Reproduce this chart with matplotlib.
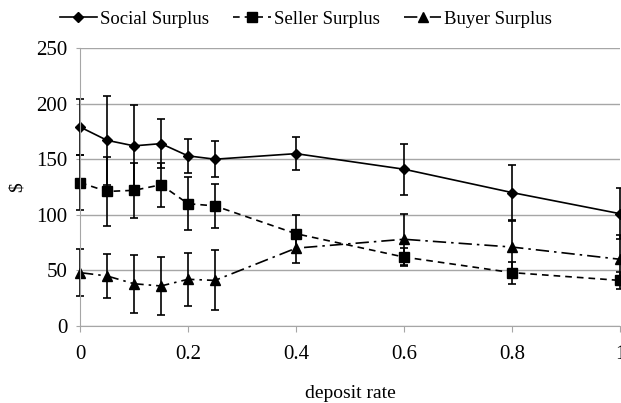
import matplotlib
matplotlib.use("Agg")
import matplotlib.pyplot as plt

rate = [0, 0.05, 0.1, 0.15, 0.2, 0.25, 0.4, 0.6, 0.8, 1.0]

social = [179, 167, 162, 164, 153, 150, 155, 141, 120, 101]
social_err = [25, 40, 37, 22, 15, 16, 15, 23, 25, 23]

seller = [129, 121, 122, 127, 110, 108, 83, 62, 48, 41]
seller_err = [25, 31, 25, 20, 24, 20, 17, 8, 10, 8]

buyer = [48, 45, 38, 36, 42, 41, 70, 78, 71, 60]
buyer_err = [21, 20, 26, 26, 24, 27, 13, 23, 23, 22]

plt.rcParams['font.family'] = ['Liberation Serif', 'DejaVu Serif']
plt.rcParams['font.size'] = 12

fig = plt.figure(figsize=(6.21, 4.03), dpi=100)
ax = fig.add_axes([80 / 621, 1 - 326 / 403, 540 / 621, 278 / 403])

styles = [
    (social, social_err, '-', 'D', 5.5, 'Social Surplus'),
    (seller, seller_err, (0, (4, 3)), 's', 7.5, 'Seller Surplus'),
    (buyer, buyer_err, (0, (8, 3, 1.5, 3)), '^', 7.5, 'Buyer Surplus'),
]
handles = []
for vals, err, ls, mk, ms, lab in styles:
    c = ax.errorbar(rate, vals, yerr=err, color='black', lw=1.2, ls=ls,
                    marker=mk, ms=ms, capsize=3, elinewidth=1.2, capthick=1.2,
                    label=lab)
    # keep the end markers whole at x=0 and x=1
    for art in c.lines[1] + c.lines[2] + (c.lines[0],):
        art.set_clip_on(False)
    handles.append(c.lines[0])

ax.set_xlim(0, 1)
ax.set_ylim(0, 250)
ax.set_yticks([0, 50, 100, 150, 200, 250])
ax.set_xticks([0, 0.2, 0.4, 0.6, 0.8, 1])
ax.set_xticklabels(['0', '0.2', '0.4', '0.6', '0.8', '1'])
ax.yaxis.grid(True, color='#a6a6a6', lw=1)
ax.set_axisbelow(True)
for s in ['top', 'right']:
    ax.spines[s].set_visible(False)
for s in ['left', 'bottom']:
    ax.spines[s].set_color('#a6a6a6')
ax.tick_params(axis='y', length=3, color='#a6a6a6', labelsize=15, pad=6)
ax.tick_params(axis='x', length=4, color='#a6a6a6', labelsize=15, pad=10)
ax.set_xlabel('deposit rate', fontsize=14, labelpad=15)
ax.set_ylabel('$', fontsize=14)
ax.yaxis.set_label_coords(-0.1, 0.5)

ax.legend(handles, [s[5] for s in styles], loc='lower center',
          bbox_to_anchor=(0.418, 1.045), ncol=3, frameon=False, fontsize=13.5,
          handlelength=2.0, columnspacing=1.3, handletextpad=0.15,
          borderaxespad=0)

fig.savefig('out.png', dpi=100)
